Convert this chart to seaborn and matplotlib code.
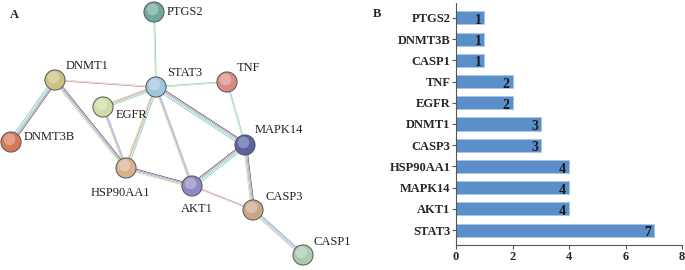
import numpy as np
import pandas as pd
import matplotlib.pyplot as plt
import seaborn as sns

# panel B data
genes = ['PTGS2', 'DNMT3B', 'CASP1', 'TNF', 'EGFR', 'DNMT1', 'CASP3',
         'HSP90AA1', 'MAPK14', 'AKT1', 'STAT3']
degree = [1, 1, 1, 2, 2, 3, 3, 4, 4, 4, 7]
xticks = [0, 2, 4, 6, 8]

# panel A network (layout in panel pixels)
nodes = ['PTGS2', 'STAT3', 'TNF', 'DNMT1', 'EGFR', 'DNMT3B', 'MAPK14',
         'HSP90AA1', 'AKT1', 'CASP3', 'CASP1']
node_x = [154, 156, 227, 55, 103, 11, 245, 126, 192, 253, 303]
node_y = [12, 87, 82, 80, 107, 142, 145, 168, 186, 210, 255]
node_col = ['#6fa89c', '#9ec5de', '#d98c86', '#c9c283', '#cfdca6', '#d6785a',
            '#5c61a3', '#d8b18b', '#8f88c4', '#caa685', '#a9c9b2']
edges = [('PTGS2', 'STAT3', 'cy'), ('STAT3', 'TNF', 'cy'), ('STAT3', 'DNMT1', 'my'),
         ('STAT3', 'EGFR', 'cymy'), ('STAT3', 'HSP90AA1', 'cymy'), ('STAT3', 'AKT1', 'cmy'),
         ('STAT3', 'MAPK14', 'kmcyc'), ('TNF', 'MAPK14', 'cy'), ('DNMT1', 'DNMT3B', 'kmcyc'),
         ('DNMT1', 'HSP90AA1', 'kmcy'), ('EGFR', 'HSP90AA1', 'cmy'), ('HSP90AA1', 'AKT1', 'kmcy'),
         ('AKT1', 'MAPK14', 'kmcyc'), ('AKT1', 'CASP3', 'my'), ('MAPK14', 'CASP3', 'kmcy'),
         ('CASP3', 'CASP1', 'cmyc')]
lab_dx = [13, 11, 10, 11, 13, 13, 10, -6, 5, 12, 11]
lab_dy = [0, -14, -14, -14, 8, -5, -15, 25, 23, -13, -13]
lab_ha = ['left', 'left', 'left', 'left', 'left', 'left', 'left', 'center', 'center', 'left', 'left']

chan = {'c': '#5cc6dc', 'y': '#ccdc77', 'm': '#c66cc6', 'k': '#444444'}

sns.set_style('ticks')
plt.rcParams['font.family'] = ['Liberation Serif', 'DejaVu Serif']

fig = plt.figure(figsize=(6.85, 2.70), dpi=100)

# ---- panel A
axA = fig.add_axes([0, 0, 340 / 685, 1])
axA.set_xlim(0, 340)
axA.set_ylim(270, 0)
axA.axis('off')

pos = {n: (x, y) for n, x, y in zip(nodes, node_x, node_y)}
for a, b, ch in edges:
    x0, y0 = pos[a]
    x1, y1 = pos[b]
    d = np.array([x1 - x0, y1 - y0], dtype=float)
    nrm = np.array([-d[1], d[0]]) / np.hypot(*d)
    k = len(ch)
    for i, c in enumerate(ch):
        off = (i - (k - 1) / 2) * 1.1
        axA.plot([x0 + nrm[0] * off, x1 + nrm[0] * off],
                 [y0 + nrm[1] * off, y1 + nrm[1] * off],
                 color=chan[c], lw=0.45, zorder=1)

axA.scatter(node_x, node_y, s=210, c=node_col, edgecolors='#555555', linewidths=0.7, zorder=3)
axA.scatter(np.array(node_x) - 2, np.array(node_y) - 3, s=70, c='white', alpha=0.3,
            linewidths=0, zorder=4)

for n, x, y, dx, dy, ha in zip(nodes, node_x, node_y, lab_dx, lab_dy, lab_ha):
    axA.text(x + dx, y + dy, n, fontsize=9, ha=ha, va='center', color='#222222', zorder=5)

axA.text(10, 15, 'A', fontsize=9, fontweight='bold', va='center')
fig.text(373 / 685, 1 - 14 / 270, 'B', fontsize=9, fontweight='bold', va='center')

# ---- panel B
df = pd.DataFrame({'gene': genes, 'degree': degree})
axB = fig.add_axes([456 / 685, 25 / 270, 226 / 685, 242 / 270])
sns.barplot(data=df, x='degree', y='gene', orient='h', color='#5b8fc9',
            edgecolor='#a8c6e8', linewidth=0.6, width=0.62, saturation=1, ax=axB)
axB.set_xlim(0, 8)
axB.set_ylim(10.7, -0.7)
axB.set_xticks(xticks)
axB.set_xlabel('')
axB.set_ylabel('')
sns.despine(ax=axB)
for sp in ['left', 'bottom']:
    axB.spines[sp].set_color('#555555')
    axB.spines[sp].set_linewidth(0.8)
axB.tick_params(length=3, width=0.8, color='#555555', labelsize=9, pad=1)
for t in axB.get_xticklabels() + axB.get_yticklabels():
    t.set_fontweight('bold')
for i, v in enumerate(degree):
    axB.text(v - 0.1, i + 0.12, str(v), ha='right', va='center', fontsize=10,
             fontweight='bold', color='#1a1a1a')

fig.savefig('out.png', dpi=100)
